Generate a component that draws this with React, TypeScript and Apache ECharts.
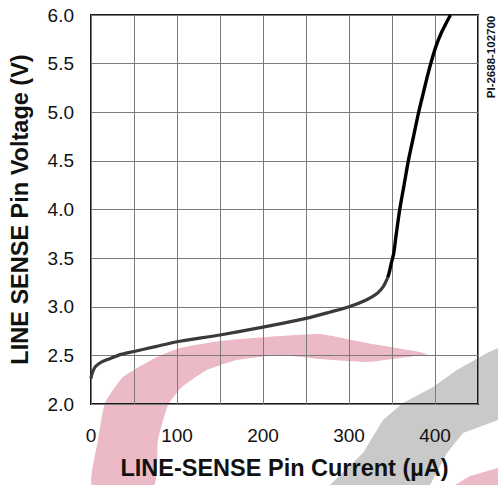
import React, { useEffect, useRef } from "react";
import * as echarts from "echarts";

const lowerCurrent = [0, 0.5, 2, 4, 7, 12, 20, 35, 50, 75, 100, 150, 200, 250, 280, 300, 320, 333, 340, 345];
const lowerVoltage = [2.26, 2.29, 2.33, 2.37, 2.4, 2.43, 2.46, 2.51, 2.54, 2.59, 2.64, 2.71, 2.79, 2.88, 2.95, 3.0, 3.07, 3.14, 3.21, 3.3];
const upperCurrent = [345, 347, 349, 352, 355, 359, 364, 369, 375, 381, 387, 392, 397, 402, 407, 412, 418];
const upperVoltage = [3.3, 3.36, 3.44, 3.55, 3.75, 4.0, 4.25, 4.5, 4.75, 5.0, 5.22, 5.4, 5.56, 5.7, 5.81, 5.9, 6.0];
const xTickLabels = [0, 100, 200, 300, 400];
const xTitle = "LINE-SENSE Pin Current (µA)";
const yTitle = "LINE SENSE Pin Voltage (V)";
const figureId = "PI-2688-102700";

const FONT = "'Liberation Sans', Arial, Helvetica, sans-serif";

export default function App() {
  const ref = useRef<HTMLDivElement>(null);
  useEffect(() => {
    if (!ref.current) return;
    const chart = echarts.init(ref.current, null, { renderer: "svg" });
    const pair = (xs: number[], ys: number[]) => xs.map((x, i) => [x, ys[i]]);
    chart.setOption({
      animation: false,
      backgroundColor: "#ffffff",
      textStyle: { fontFamily: FONT },
      grid: {
        left: 89,
        top: 15,
        right: 20,
        bottom: 81,
        show: true,
        borderColor: "#1a1a1a",
        borderWidth: 2,
        backgroundColor: "transparent",
      },
      graphic: [
        {
          type: "polygon",
          z: -10,
          silent: true,
          shape: {
            smooth: 0.15,
            points: [
              [92, 485], [98, 440], [105, 403], [123, 377], [157, 357], [180, 348], [220, 341],
              [280, 336], [320, 334], [367, 343], [428, 354], [400, 358], [367, 362], [320, 359],
              [280, 355], [237, 360], [207, 370], [182, 387], [168, 405], [158, 440], [154, 485],
            ],
          },
          style: { fill: "#ebbac6" },
        },
        {
          type: "polygon",
          z: -10,
          silent: true,
          shape: {
            points: [
              [330, 485], [363, 453], [383, 420], [403, 403], [433, 387], [457, 370], [487, 353],
              [498, 348], [498, 420], [463, 433], [447, 453], [430, 485],
            ],
          },
          style: { fill: "#c9c9c9" },
        },
        {
          type: "polygon",
          z: -10,
          silent: true,
          shape: { points: [[455, 485], [470, 476], [498, 468], [498, 485]] },
          style: { fill: "#ebbac6" },
        },
        {
          type: "text",
          x: 491,
          y: 57,
          rotation: Math.PI / 2,
          style: {
            text: figureId,
            font: `bold 11.5px ${FONT}`,
            fill: "#111",
            align: "center",
            verticalAlign: "middle",
          },
        },
      ],
      xAxis: {
        type: "value",
        min: 0,
        max: 450,
        interval: 50,
        name: xTitle,
        nameLocation: "middle",
        nameGap: 52,
        nameTextStyle: { fontFamily: FONT, fontWeight: "bold", fontSize: 23.5, color: "#111" },
        axisLine: { show: false },
        axisTick: { show: false },
        axisLabel: {
          margin: 22,
          fontFamily: FONT,
          fontSize: 19,
          color: "#111",
          formatter: (v: number) => (xTickLabels.includes(v) ? String(v) : ""),
        },
        splitLine: { show: true, lineStyle: { color: "#7a7a7a", width: 1 } },
      },
      yAxis: {
        type: "value",
        min: 2.0,
        max: 6.0,
        interval: 0.5,
        name: yTitle,
        nameLocation: "middle",
        nameGap: 59,
        nameTextStyle: { fontFamily: FONT, fontWeight: "bold", fontSize: 23.5, color: "#111" },
        axisLine: { show: false },
        axisTick: { show: false },
        axisLabel: {
          margin: 17,
          fontFamily: FONT,
          fontSize: 19,
          color: "#111",
          formatter: (v: number) => v.toFixed(1),
        },
        splitLine: { show: true, lineStyle: { color: "#7a7a7a", width: 1 } },
      },
      series: [
        {
          type: "line",
          data: pair(lowerCurrent, lowerVoltage),
          smooth: 0.3,
          showSymbol: false,
          lineStyle: { color: "#3a3a3a", width: 3.2 },
          z: 3,
        },
        {
          type: "line",
          data: pair(upperCurrent, upperVoltage),
          smooth: 0.3,
          showSymbol: false,
          lineStyle: { color: "#000000", width: 3.4 },
          z: 4,
        },
      ],
    });
    return () => chart.dispose();
  }, []);
  return (
    <div
      ref={ref}
      style={{ position: "fixed", left: 0, top: 0, width: 498, height: 485 }}
    />
  );
}
